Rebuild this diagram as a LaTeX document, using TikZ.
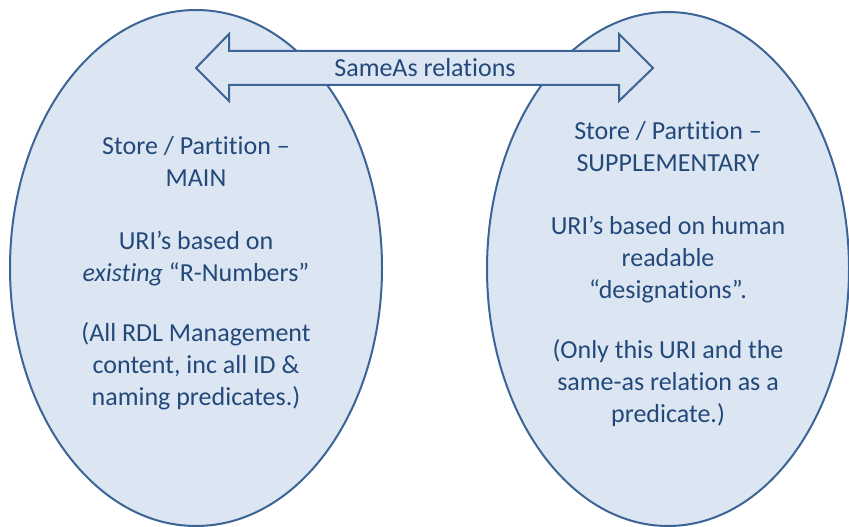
\documentclass[tikz,border=0pt]{standalone}
\usepackage{fontspec}
\setmainfont[Ligatures=NoCommon]{Carlito}
\usetikzlibrary{shapes.geometric}
\definecolor{partfill}{HTML}{DCE6F2}
\definecolor{partline}{HTML}{3D6496}
\definecolor{parttext}{HTML}{23487A}
\tikzset{
  partition/.style={ellipse, draw=partline, fill=partfill, line width=2pt,
    text=parttext, align=center, inner sep=0pt,
    font=\fontsize{26}{32}\selectfont},
  arrowbox/.style={draw=partline, fill=partfill, line width=2pt, line join=miter},
}

\begin{document}
\begin{tikzpicture}[x=1pt, y=-1pt]
			%%%%% START %%%%%
			\useasboundingbox (0, 0) rectangle (849, 527);

			\node[partition, minimum width=372, minimum height=516] (main) at (196, 268) {};
			\node[text=parttext, align=center, font=\fontsize{26}{32}\selectfont] (maintext) at (196, 273)
				{Store / Partition –\\ MAIN\\[31pt]
				 URI’s based on\\ \textit{existing} “R-Numbers”\\[28pt]
				 (All RDL Management\\ content, inc all ID \&\\ naming predicates.)};

			\node[partition, minimum width=362, minimum height=514] (supp) at (668, 269) {};
			\node[text=parttext, align=center, font=\fontsize{26}{32}\selectfont] (supptext) at (668, 274)
				{Store / Partition –\\ SUPPLEMENTARY\\[31pt]
				 URI’s based on human\\ readable\\ “designations”.\\[28pt]
				 (Only this URI and the\\ same-as relation as a\\ predicate.)};

			\draw[arrowbox] (196, 68) -- (229, 34) -- (229, 51) -- (619, 51) -- (619, 34)
				-- (653, 68) -- (619, 101) -- (619, 85) -- (229, 85) -- (229, 101) -- cycle;
			\node[text=parttext, font=\fontsize{26}{31}\selectfont] (sameas) at (425, 68) {SameAs relations};

			%%%%% END %%%%%
\end{tikzpicture}
\end{document}
